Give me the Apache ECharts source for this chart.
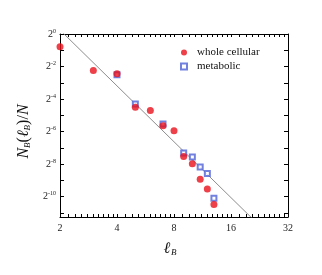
<!DOCTYPE html>
<html><head><meta charset="utf-8">
<script src="https://cdn.jsdelivr.net/npm/echarts@6/dist/echarts.min.js"></script>
<style>html,body{margin:0;padding:0;background:#fff}#c{width:322px;height:275px}</style>
</head><body><div id="c"></div>
<script>
// lengths ℓ_B
var lengths = [2, 3, 4, 5, 6, 7, 8, 9, 10, 11, 12, 13];
// N_B(ℓ_B)/N, whole cellular network
var wholeCellular = [0.582, 0.210, 0.183, 0.0442, 0.0385, 0.0201, 0.0162, 0.00541, 0.00397, 0.00204, 0.00135, 0.000694];
// N_B(ℓ_B)/N, metabolic network (null where hidden behind the red marks)
var metabolic = [null, null, 0.176, 0.0508, null, 0.0215, null, 0.00625, 0.00526, 0.00345, 0.00260, 0.000912];
// power-law guide line endpoints
var fitX = [2, 32];
var fitY = [1.185, 0.0000863];
// axes
var xMin = 2, xMax = 32;
var xTickValues = [2, 2.2, 2.4, 2.6, 2.8, 3, 3.2, 3.4, 3.6, 3.8,
                   4, 4.4, 4.8, 5.2, 5.6, 6, 6.4, 6.8, 7.2, 7.6,
                   8, 8.8, 9.6, 10.4, 11.2, 12, 12.8, 13.6, 14.4, 15.2,
                   16, 17.6, 19.2, 20.8, 22.4, 24, 25.6, 27.2, 28.8, 30.4, 32];
var xLabelValues = [2, 4, 8, 16, 32];
var yMin = 0.000409, yMax = 1;
var yTickValues = [1/2048, 1/1024, 1/512, 1/256, 1/128, 1/64, 1/32, 1/16, 1/8, 1/4, 1/2, 1];
var yLabelValues = [1/1024, 1/256, 1/64, 1/16, 1/4, 1];

var serif = 'Liberation Serif';
var chart = echarts.init(document.getElementById('c'), null, {renderer: 'canvas'});

function yFmt(v) {
  var p = Math.round(Math.log(v) / Math.LN2);
  return '{b|2}{s|' + p + '}';
}

var axisLine = {show: true, lineStyle: {color: '#000', width: 1}};
var xTick = {show: true, inside: true, length: 3, lineStyle: {color: '#000'}, customValues: xTickValues};
chart.setOption({
  animation: false,
  backgroundColor: '#fff',
  grid: {left: 60, right: 34, top: 34, bottom: 58, containLabel: false},
  legend: {
    orient: 'vertical', left: 180, top: 47, padding: 0, itemWidth: 6, itemHeight: 6, itemGap: 3,
    textStyle: {fontFamily: serif, fontSize: 11, color: '#111', padding: [0, 0, 0, 5]},
    data: ['whole cellular', 'metabolic']
  },
  xAxis: [{
    type: 'log', logBase: 2, min: xMin, max: xMax, position: 'bottom',
    axisLine: axisLine, axisTick: xTick,
    splitLine: {show: false},
    axisLabel: {margin: 6, fontFamily: serif, fontSize: 10, color: '#222', customValues: xLabelValues},
    name: '{i|ℓ}{s|B}', nameLocation: 'middle', nameGap: 24,
    nameTextStyle: {padding: [0, 8, 0, 0], rich: {
      i: {fontFamily: serif, fontStyle: 'italic', fontSize: 16, color: '#111'},
      s: {fontFamily: serif, fontStyle: 'italic', fontSize: 9, color: '#111', verticalAlign: 'bottom', lineHeight: 8, padding: [6, 0, 0, 1]}
    }}
  }, {
    type: 'log', logBase: 2, min: xMin, max: xMax, position: 'top',
    axisLine: axisLine, axisTick: xTick,
    splitLine: {show: false}, axisLabel: {show: false}
  }],
  yAxis: [{
    type: 'log', logBase: 2, min: yMin, max: yMax, position: 'left',
    axisLine: axisLine,
    axisTick: {show: true, inside: true, length: 4, lineStyle: {color: '#000'}, customValues: yTickValues},
    splitLine: {show: false},
    axisLabel: {margin: 4, formatter: yFmt, customValues: yLabelValues, rich: {
      b: {fontFamily: serif, fontSize: 10, color: '#222', lineHeight: 12},
      s: {fontFamily: serif, fontSize: 6, color: '#222', verticalAlign: 'top', lineHeight: 6}
    }},
    name: '{i|N}{s|B}{n|(}{i|ℓ}{s|B}{n|)/}{i|N}', nameLocation: 'middle', nameRotate: 90, nameGap: 18,
    nameTextStyle: {padding: [0, 12, 0, 0], rich: {
      i: {fontFamily: serif, fontStyle: 'italic', fontSize: 16, color: '#111'},
      n: {fontFamily: serif, fontSize: 16, color: '#111'},
      s: {fontFamily: serif, fontStyle: 'italic', fontSize: 9, color: '#111', verticalAlign: 'bottom', lineHeight: 8}
    }}
  }, {
    type: 'log', logBase: 2, min: yMin, max: yMax, position: 'right',
    axisLine: axisLine,
    axisTick: {show: true, inside: true, length: 4, lineStyle: {color: '#000'}, customValues: yTickValues},
    splitLine: {show: false}, axisLabel: {show: false}
  }],
  series: [{
    name: 'fit', type: 'line', xAxisIndex: 0, yAxisIndex: 0, clip: true,
    data: fitX.map(function (x, i) { return [x, fitY[i]]; }),
    symbol: 'none', lineStyle: {color: '#808080', width: 0.9}, z: 1
  }, {
    name: 'metabolic', type: 'scatter', xAxisIndex: 0, yAxisIndex: 0,
    data: lengths.map(function (x, i) { return [x, metabolic[i]]; }).filter(function (d) { return d[1] !== null; }),
    symbol: 'emptyRect', symbolSize: 5,
    itemStyle: {color: '#4f62d6', borderWidth: 1}, z: 2
  }, {
    name: 'whole cellular', type: 'scatter', xAxisIndex: 0, yAxisIndex: 0,
    data: lengths.map(function (x, i) { return [x, wholeCellular[i]]; }),
    symbol: 'circle', symbolSize: 7,
    itemStyle: {color: '#e8101c'}, z: 3
  }]
});
</script></body></html>
